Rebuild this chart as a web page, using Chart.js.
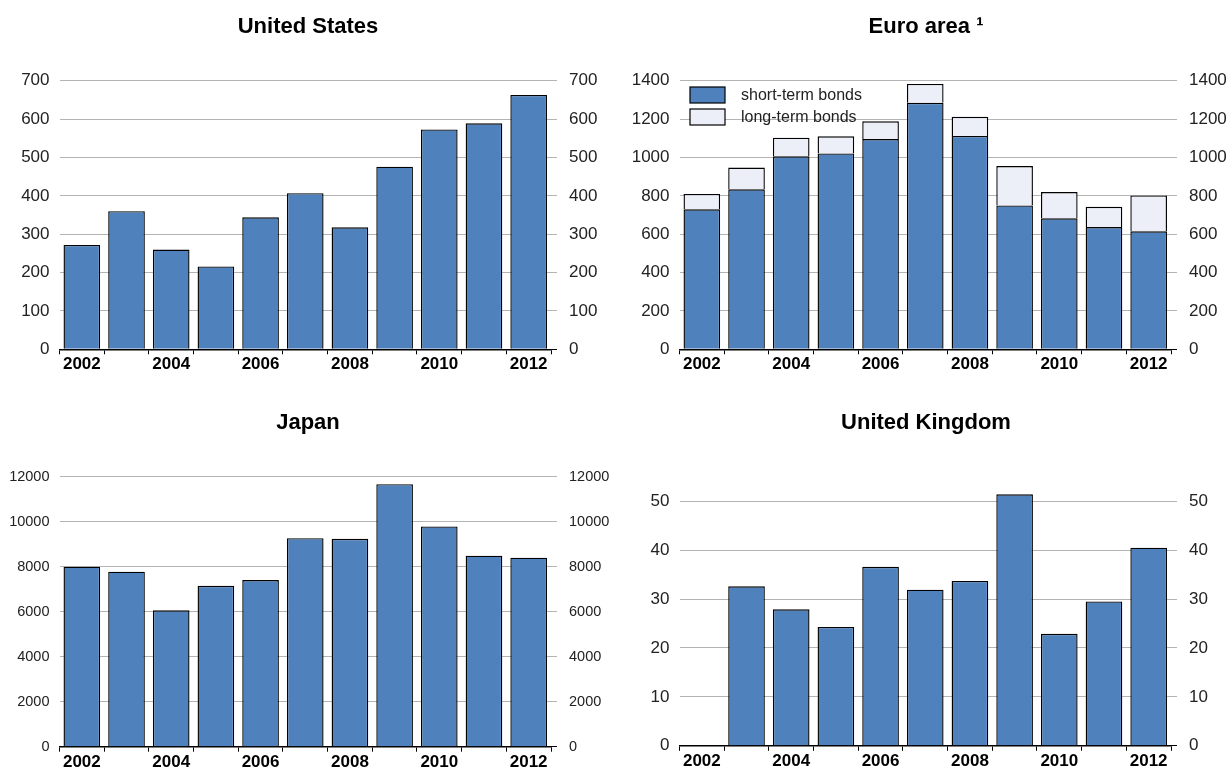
<!DOCTYPE html>
<html><head><meta charset="utf-8">
<script src="https://cdn.jsdelivr.net/npm/chart.js@4.4.1/dist/chart.umd.min.js"></script>
<style>
html,body{margin:0;padding:0;background:#fff;}
#wrap{position:relative;width:1232px;height:768px;overflow:hidden;background:#fff;}
canvas{position:absolute;display:block;}
</style></head><body>
<div id="wrap">
<canvas id="us" width="616" height="384" style="left:0;top:0"></canvas>
<canvas id="euro" width="612" height="384" style="left:620px;top:0"></canvas>
<canvas id="jp" width="616" height="384" style="left:0;top:384px"></canvas>
<canvas id="uk" width="612" height="384" style="left:620px;top:384px"></canvas>
</div>
<script>
// ---- data ----
const years = ['2002','2003','2004','2005','2006','2007','2008','2009','2010','2011','2012'];
const usValues = [272, 360, 260, 216, 344, 407, 318, 476, 573, 589, 663];
const euroShort = [730, 834, 1006, 1021, 1096, 1285, 1112, 750, 683, 637, 615];
const euroLong = [80, 113, 97, 89, 92, 98, 100, 205, 137, 106, 187];
const japanValues = [8000, 7780, 6060, 7150, 7410, 9270, 9240, 11670, 9790, 8490, 8400];
const ukValues = [null, 32.6, 27.9, 24.3, 36.6, 31.9, 33.7, 51.4, 22.9, 29.5, 40.5];
const usTicks = [0, 100, 200, 300, 400, 500, 600, 700];
const euroTicks = [0, 200, 400, 600, 800, 1000, 1200, 1400];
const japanTicks = [0, 2000, 4000, 6000, 8000, 10000, 12000];
const ukTicks = [0, 10, 20, 30, 40, 50];
const seriesNames = ['short-term bonds', 'long-term bonds'];
const titles = ['United States', 'Euro area \u00B9', 'Japan', 'United Kingdom'];

const FONT = '"Liberation Sans", Arial, Helvetica, sans-serif';
const BLUE = '#4f81bd';
const LIGHT = '#eceff8';
const GRID = '#b4b4b4';

const euroLegend = {
  id: 'euroLegend',
  afterDraw(chart) {
    const ctx = chart.ctx;
    const x0 = chart.chartArea.left + 10.5;
    const rows = [{y: 87, c: BLUE}, {y: 109, c: LIGHT}];
    ctx.save();
    rows.forEach((r, i) => {
      ctx.fillStyle = r.c;
      ctx.fillRect(x0, r.y, 35, 16);
      ctx.strokeStyle = '#000';
      ctx.lineWidth = 1.2;
      ctx.strokeRect(x0, r.y, 35, 16);
      ctx.fillStyle = '#222';
      ctx.font = '16px ' + FONT;
      ctx.textBaseline = 'middle';
      ctx.textAlign = 'left';
      ctx.fillText(chart.data.datasets[i].label, x0 + 51, r.y + 8.5);
    });
    ctx.restore();
  }
};

function build(id, cfg) {
  const W = cfg.w;
  const plotLeft = 59.5, plotRight = 551;
  const tickVals = cfg.ticks;
  const filt = s => { s.ticks = tickVals.map(v => ({value: v})); };
  const plain = v => String(v);
  new Chart(document.getElementById(id), {
    type: 'bar',
    data: {labels: years, datasets: cfg.datasets},
    plugins: cfg.plugins || [],
    options: {
      responsive: false, animation: false,
      layout: {padding: 0},
      datasets: {bar: {categoryPercentage: 1, barPercentage: 0.82}},
      plugins: {
        legend: {display: false}, tooltip: {enabled: false},
        title: {display: true, text: cfg.title, color: '#000',
          font: {family: FONT, size: 22, weight: 'bold', lineHeight: 1.2},
          padding: {top: cfg.titleTop, bottom: 40.5}}
      },
      scales: {
        x: {stacked: true, offset: true,
          border: {display: true, color: '#000', width: 1.5},
          grid: {offset: true, drawOnChartArea: false, drawTicks: true, tickLength: 5, color: '#000', lineWidth: 1},
          ticks: {autoSkip: false, maxRotation: 0, padding: 0, color: '#000',
            font: {family: FONT, size: 17, weight: 'bold'},
            callback: (v, i) => (i % 2 === 0 ? years[i] : '')},
          afterFit: s => { s.height = cfg.xh; }
        },
        y: {position: 'left', stacked: true, min: 0, max: cfg.max,
          border: {display: false},
          grid: {color: GRID, lineWidth: 1, drawTicks: false},
          ticks: {padding: 10, color: '#222', font: {family: FONT, size: cfg.tf}, callback: plain},
          afterBuildTicks: filt,
          afterFit: s => { s.width = plotLeft; }
        },
        y2: {position: 'right', min: 0, max: cfg.max,
          border: {display: false},
          grid: {drawOnChartArea: false, drawTicks: true, tickLength: 6, lineWidth: 1,
            color: c => (c.tick && c.tick.value === 0 ? '#000' : GRID)},
          ticks: {padding: 12, color: '#222', font: {family: FONT, size: cfg.tf}, callback: plain},
          afterBuildTicks: filt,
          afterFit: s => { s.width = W - plotRight; }
        }
      }
    }
  });
}

const barStyle = {borderColor: '#000', borderWidth: 1.4};

build('us', {w: 616, title: titles[0], max: 700, ticks: usTicks, tf: 17, titleTop: 13.8, xh: 34.7,
  datasets: [Object.assign({label: 'United States', data: usValues, backgroundColor: BLUE}, barStyle)]});

build('euro', {w: 612, title: titles[1], max: 1400, ticks: euroTicks, tf: 17, titleTop: 13.8, xh: 34.7,
  plugins: [euroLegend],
  datasets: [
    Object.assign({label: seriesNames[0], data: euroShort, backgroundColor: BLUE}, barStyle),
    Object.assign({label: seriesNames[1], data: euroLong, backgroundColor: LIGHT}, barStyle)
  ]});

build('jp', {w: 616, title: titles[2], max: 12000, ticks: japanTicks, tf: 14.5, titleTop: 25.8, xh: 21.3,
  datasets: [Object.assign({label: 'Japan', data: japanValues, backgroundColor: BLUE}, barStyle)]});

build('uk', {w: 612, title: titles[3], max: 55, ticks: ukTicks, tf: 17, titleTop: 25.8, xh: 21.3,
  datasets: [Object.assign({label: 'United Kingdom', data: ukValues, backgroundColor: BLUE}, barStyle)]});
</script>
</body></html>
